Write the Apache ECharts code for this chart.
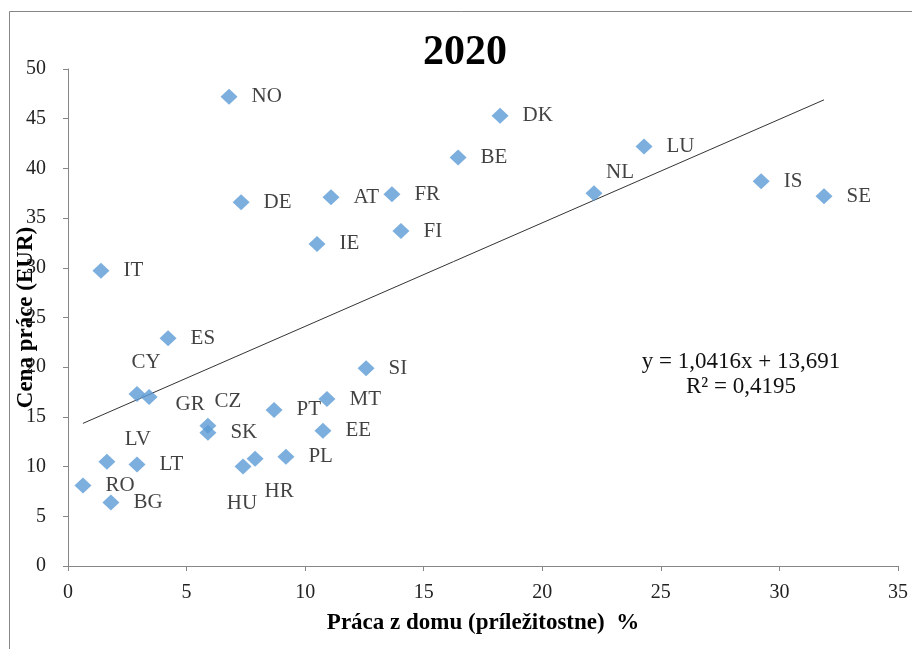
<!DOCTYPE html>
<html>
<head>
<meta charset="utf-8">
<script src="https://cdn.jsdelivr.net/npm/echarts@6/dist/echarts.min.js"></script>
<style>
  html, body { margin: 0; padding: 0; background: #fff; }
  #chart { width: 912px; height: 649px; }
</style>
</head>
<body>
<div id="chart"></div>
<script>
// krajiny a hodnoty
var countries = ["NO", "DK", "BE", "LU", "NL", "IS", "SE", "DE", "AT", "FR", "FI", "IE", "IT", "ES", "SI",
  "CY", "GR", "MT", "PT", "CZ", "SK", "EE", "LV", "LT", "PL", "HR", "HU", "RO", "BG"];
var homeWork = [6.79, 18.22, 16.45, 24.29, 22.18, 29.23, 31.88, 7.30, 11.09, 13.66, 14.04, 10.50, 1.39, 4.22, 12.57,
  2.91, 3.42, 10.92, 8.69, 5.90, 5.90, 10.75, 1.64, 2.91, 9.19, 7.89, 7.38, 0.63, 1.81];
var labourCost = [47.2, 45.3, 41.1, 42.2, 37.5, 38.7, 37.2, 36.6, 37.1, 37.4, 33.7, 32.4, 29.7, 22.9, 19.9,
  17.3, 17.0, 16.8, 15.7, 14.1, 13.4, 13.6, 10.5, 10.2, 11.0, 10.8, 10.0, 8.1, 6.4];

// trend
var slope = 1.0416;
var intercept = 13.691;
var eqText = ["y = 1,0416x + 13,691", "R\u00b2 = 0,4195"];

var xTicks = [0, 5, 10, 15, 20, 25, 30, 35];
var yTicks = [0, 5, 10, 15, 20, 25, 30, 35, 40, 45, 50];

// posun popiskov, ktore nie su vpravo
var labelShift = {
  CY: [9, -32], GR: [41, 7], CZ: [20, -24], LV: [31, -22],
  HU: [-1, 37], HR: [24, 33], NL: [26, -21]
};

var font = "'Liberation Serif', 'Times New Roman', serif";
var gray = "#868686";

var myChart = echarts.init(document.getElementById("chart"));

var points = countries.map(function (c, i) {
  var item = { name: c, value: [homeWork[i], labourCost[i]] };
  if (labelShift[c]) {
    item.label = { position: "inside", offset: labelShift[c], align: "center", verticalAlign: "middle" };
  }
  return item;
});

var xMin = Math.min.apply(null, homeWork);
var xMax = Math.max.apply(null, homeWork);
var trend = [
  [xMin, slope * xMin + intercept],
  [xMax, slope * xMax + intercept]
];

myChart.setOption({
  animation: false,
  title: {
    text: "2020",
    left: 460,
    textAlign: "center",
    top: 27,
    textStyle: { fontFamily: font, fontSize: 42, fontWeight: "bold", color: "#000" }
  },
  grid: { left: 68, right: 14, top: 69, bottom: 83, outerBoundsMode: "none" },
  xAxis: {
    type: "value",
    min: xTicks[0],
    max: xTicks[xTicks.length - 1],
    interval: 5,
    name: "Práca z domu (príležitostne)  %",
    nameLocation: "middle",
    nameGap: 46,
    nameMoveOverlap: false,
    nameTextStyle: { fontFamily: font, fontSize: 23, fontWeight: "bold", color: "#000" },
    axisLine: { lineStyle: { color: gray } },
    axisTick: { show: true, length: 5, lineStyle: { color: gray } },
    axisLabel: { margin: 17, fontFamily: font, fontSize: 20, color: "#222" },
    splitLine: { show: false }
  },
  yAxis: {
    type: "value",
    min: yTicks[0],
    max: yTicks[yTicks.length - 1],
    interval: 5,
    name: "Cena práce (EUR)",
    nameLocation: "middle",
    nameGap: 30,
    nameMoveOverlap: false,
    nameTextStyle: { fontFamily: font, fontSize: 23, fontWeight: "bold", color: "#000" },
    axisLine: { show: true, lineStyle: { color: gray } },
    axisTick: { show: true, length: 5, lineStyle: { color: gray } },
    axisLabel: { margin: 22, fontFamily: font, fontSize: 20, color: "#222" },
    splitLine: { show: false }
  },
  series: [
    {
      type: "line",
      data: trend,
      symbol: "none",
      silent: true,
      lineStyle: { color: "#333", width: 1 },
      z: 1
    },
    {
      type: "scatter",
      data: points,
      symbol: "diamond",
      symbolSize: [17, 16],
      itemStyle: { color: "#5B9BD5" },
      label: {
        show: true,
        position: "right",
        distance: 14,
        formatter: "{b}",
        fontFamily: font,
        fontSize: 21,
        color: "#111"
      },
      z: 3
    }
  ],
  graphic: [
    {
      type: "rect",
      left: 7, top: 9,
      shape: { width: 940, height: 680 },
      style: { fill: "none", stroke: gray, lineWidth: 1 },
      silent: true
    },
    {
      type: "text",
      x: 741, y: 362,
      style: { text: eqText[0], font: "23px " + font, fill: "#111", align: "center", verticalAlign: "middle" }
    },
    {
      type: "text",
      x: 741, y: 387,
      style: { text: eqText[1], font: "23px " + font, fill: "#111", align: "center", verticalAlign: "middle" }
    }
  ]
});
</script>
</body>
</html>
